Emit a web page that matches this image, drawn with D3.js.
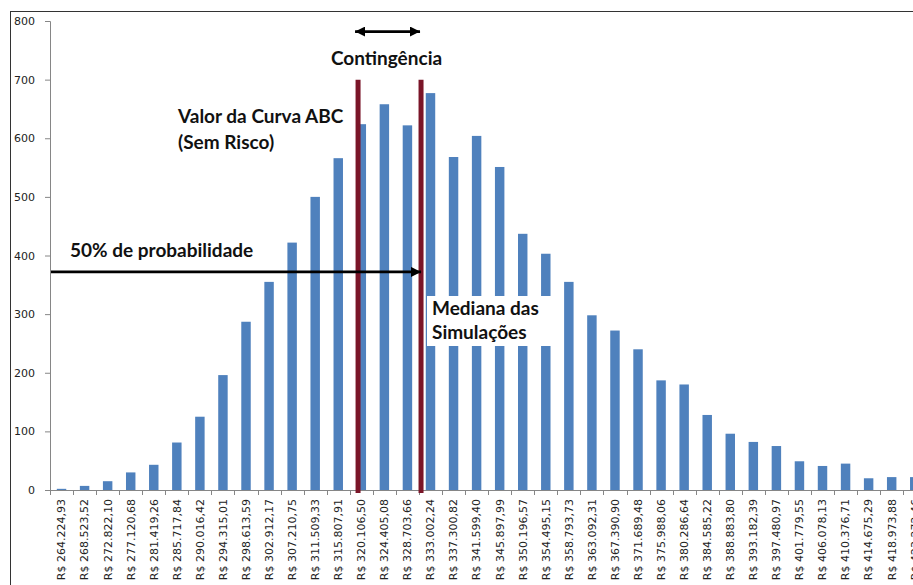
<!DOCTYPE html>
<html>
<head>
<meta charset="utf-8">
<script src="https://cdn.jsdelivr.net/npm/d3@7"></script>
<style>
  body { margin: 0; background: #fff; }
  .tick text { font-family: "DejaVu Sans", sans-serif; font-size: 11px; fill: #222; }
  .note { font-family: Lato, sans-serif; font-weight: bold; font-size: 19px; fill: #111; }
</style>
</head>
<body>
<svg id="chart" width="913" height="585"></svg>
<script>
const categories = [
  "R$ 264.224,93", "R$ 268.523,52", "R$ 272.822,10", "R$ 277.120,68", "R$ 281.419,26",
  "R$ 285.717,84", "R$ 290.016,42", "R$ 294.315,01", "R$ 298.613,59", "R$ 302.912,17",
  "R$ 307.210,75", "R$ 311.509,33", "R$ 315.807,91", "R$ 320.106,50", "R$ 324.405,08",
  "R$ 328.703,66", "R$ 333.002,24", "R$ 337.300,82", "R$ 341.599,40", "R$ 345.897,99",
  "R$ 350.196,57", "R$ 354.495,15", "R$ 358.793,73", "R$ 363.092,31", "R$ 367.390,90",
  "R$ 371.689,48", "R$ 375.988,06", "R$ 380.286,64", "R$ 384.585,22", "R$ 388.883,80",
  "R$ 393.182,39", "R$ 397.480,97", "R$ 401.779,55", "R$ 406.078,13", "R$ 410.376,71",
  "R$ 414.675,29", "R$ 418.973,88", "R$ 423.272,46"
];
const counts = [
  2, 7, 15, 30, 43, 81, 125, 196, 287, 355,
  422, 500, 566, 624, 658, 622, 677, 568, 604, 551,
  437, 403, 355, 298, 272, 240, 187, 180, 128, 96,
  82, 75, 49, 41, 45, 20, 22, 22
];
const yTicks = [0, 100, 200, 300, 400, 500, 600, 700, 800];

// annotations (simulated totals in R$)
const abcValue = 319500;     // Valor da Curva ABC (sem risco)
const medianValue = 331240;  // mediana das simulações
const redLineTop = 700;
const contArrowLevel = 782;
const probArrowLevel = 372;

const svg = d3.select("#chart");
const plotLeft = 50, plotTop = 21, plotBottom = 490;
const step = 23.06;

const x = d3.scaleBand()
  .domain(categories)
  .range([plotLeft, plotLeft + step * categories.length])
  .paddingInner(0.59)
  .paddingOuter(0.295);

const y = d3.scaleLinear().domain([0, 800]).range([plotBottom, plotTop]);

// value -> pixel, through the category centres
const catValue = (c) => +c.replace("R$ ", "").replace(/\./g, "").replace(",", ".");
const xVal = d3.scaleLinear()
  .domain([catValue(categories[0]), catValue(categories[categories.length - 1])])
  .range([x(categories[0]) + x.bandwidth() / 2,
          x(categories[categories.length - 1]) + x.bandwidth() / 2]);

// frame
svg.append("rect")
  .attr("x", 10.5).attr("y", 11.5)
  .attr("width", 940).attr("height", 640)
  .attr("fill", "none").attr("stroke", "#333");

// bars
svg.append("g")
  .selectAll("rect")
  .data(counts)
  .join("rect")
  .attr("x", (d, i) => x(categories[i]))
  .attr("width", x.bandwidth())
  .attr("y", (d) => y(d))
  .attr("height", (d) => y(0) - y(d))
  .attr("fill", "#4f81bd");

// y axis
const yAxis = svg.append("g")
  .attr("transform", `translate(${plotLeft},0)`)
  .call(d3.axisLeft(y).tickValues(yTicks).tickSize(5).tickPadding(10));
yAxis.select(".domain").attr("stroke", "#868686");
yAxis.selectAll(".tick line").attr("stroke", "#868686");

// x axis: labels at centres, ticks on band borders
const xAxis = svg.append("g")
  .attr("transform", `translate(0,${plotBottom})`)
  .call(d3.axisBottom(x).tickSize(0).tickPadding(0));
xAxis.select(".domain").remove();
xAxis.selectAll(".tick text")
  .attr("transform", "rotate(-90)")
  .attr("x", -9)
  .attr("y", 0)
  .attr("dy", "0.35em")
  .attr("text-anchor", "end");

svg.append("line")
  .attr("x1", plotLeft).attr("x2", 913)
  .attr("y1", plotBottom + 0.5).attr("y2", plotBottom + 0.5)
  .attr("stroke", "#868686");

svg.append("g")
  .selectAll("line")
  .data(categories)
  .join("line")
  .attr("x1", (d) => Math.round(x(d) - x.step() * x.paddingInner() / 2) + 0.5)
  .attr("x2", (d) => Math.round(x(d) - x.step() * x.paddingInner() / 2) + 0.5)
  .attr("y1", plotBottom)
  .attr("y2", plotBottom + 5)
  .attr("stroke", "#868686");

// red lines
svg.append("g")
  .selectAll("line")
  .data([abcValue, medianValue])
  .join("line")
  .attr("x1", (d) => xVal(d))
  .attr("x2", (d) => xVal(d))
  .attr("y1", y(redLineTop))
  .attr("y2", y(0) + 3)
  .attr("stroke", "#7a1528")
  .attr("stroke-width", 5);

// arrow heads
const defs = svg.append("defs");
defs.append("marker")
  .attr("id", "head")
  .attr("viewBox", "0 0 10 10")
  .attr("refX", 10).attr("refY", 5)
  .attr("markerWidth", 3.6).attr("markerHeight", 3.6)
  .attr("orient", "auto-start-reverse")
  .append("path")
  .attr("d", "M0,0L10,5L0,10Z")
  .attr("fill", "#000");

svg.append("line")
  .attr("x1", xVal(abcValue) - 3).attr("x2", xVal(medianValue) - 1)
  .attr("y1", y(contArrowLevel)).attr("y2", y(contArrowLevel))
  .attr("stroke", "#000").attr("stroke-width", 2.8)
  .attr("marker-start", "url(#head)")
  .attr("marker-end", "url(#head)");

svg.append("line")
  .attr("x1", plotLeft + 1).attr("x2", xVal(medianValue))
  .attr("y1", y(probArrowLevel)).attr("y2", y(probArrowLevel))
  .attr("stroke", "#000").attr("stroke-width", 2.8)
  .attr("marker-end", "url(#head)");

// texts
svg.append("text").attr("class", "note")
  .attr("x", (xVal(abcValue) + xVal(medianValue)) / 2 - 3).attr("y", 65)
  .attr("text-anchor", "middle")
  .text("Contingência");

svg.append("text").attr("class", "note")
  .attr("x", 178).attr("y", 123).text("Valor da Curva ABC");
svg.append("text").attr("class", "note")
  .attr("x", 178).attr("y", 149).text("(Sem Risco)");

svg.append("text").attr("class", "note")
  .attr("x", 70).attr("y", 257).text("50% de probabilidade");

svg.append("rect")
  .attr("x", 427).attr("y", 296)
  .attr("width", 124).attr("height", 50)
  .attr("fill", "#fff");
svg.append("text").attr("class", "note")
  .attr("x", 432).attr("y", 315).text("Mediana das");
svg.append("text").attr("class", "note")
  .attr("x", 432).attr("y", 339).text("Simulações");
</script>
</body>
</html>
